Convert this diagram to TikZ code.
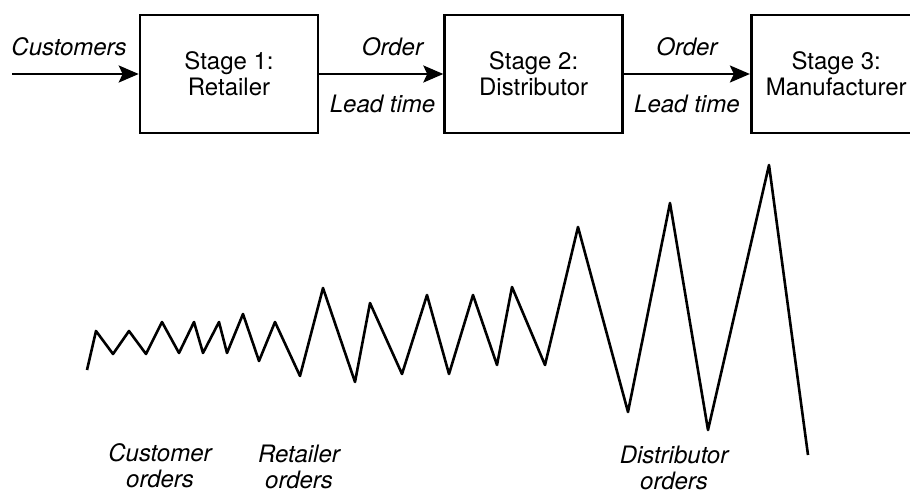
\documentclass[tikz,border=0pt]{standalone}
\usepackage{fontspec}
\setmainfont{TeX Gyre Heros}
\usetikzlibrary{arrows.meta, positioning}

\begin{document}
\begin{tikzpicture}[
    x=1pt, y=-1pt,
    node distance=124pt,
    every node/.style={font=\fontsize{24}{26}\selectfont, inner sep=2pt},
    stagebox/.style={draw, line width=2.6pt, minimum width=178pt, minimum height=118pt, align=center},
    arrow/.style={-{Stealth[length=20pt, width=17pt, inset=4pt]}, line width=2.6pt},
    flowlbl/.style={font=\fontsize{24}{26}\selectfont\itshape},
    orderlbl/.style={flowlbl, align=center},
    wave/.style={line width=2.6pt, line join=round}
]
    \useasboundingbox (0,0) rectangle (910,495);
    \clip (0,0) rectangle (910,495);

    \node[stagebox] (retailer) at (229,74) {Stage 1:\\Retailer};
    \node[stagebox, right=of retailer] (distributor) {Stage 2:\\Distributor};
    \node[stagebox, minimum width=170pt, right=126pt of distributor] (manufacturer) {Stage 3:\\Manufacturer};
    \coordinate (customers) at (12,74);

    \draw[arrow] (customers) -- node[flowlbl, above=15pt, pos=0.45] {Customers} (retailer);
    \draw[arrow] (retailer) -- node[flowlbl, above=15pt, pos=0.59] {Order}
        node[flowlbl, below=18pt, pos=0.51] {Lead time} (distributor);
    \draw[arrow] (distributor) -- node[flowlbl, above=15pt] {Order}
        node[flowlbl, below=18pt] {Lead time} (manufacturer);

    \draw[wave] (87,370) -- (96,331) -- (113,354) -- (129,331) -- (146,354)
        -- (162,322) -- (179,353) -- (194,322) -- (203,353) -- (219,322)
        -- (227,353) -- (243,314) -- (259,361) -- (275,322) -- (300,376)
        -- (323,288) -- (355,382) -- (370,303) -- (402,374) -- (427,295)
        -- (449,374) -- (473,295) -- (497,365) -- (512,287) -- (545,365)
        -- (578,227) -- (628,412) -- (670,203) -- (708,430) -- (769,165)
        -- (808,455);

    \node[orderlbl] (custorders) at (160,466) {Customer\\orders};
    \node[orderlbl] (retorders) at (299,467) {Retailer\\orders};
    \node[orderlbl] (distorders) at (674,468) {Distributor\\orders};
\end{tikzpicture}
\end{document}
